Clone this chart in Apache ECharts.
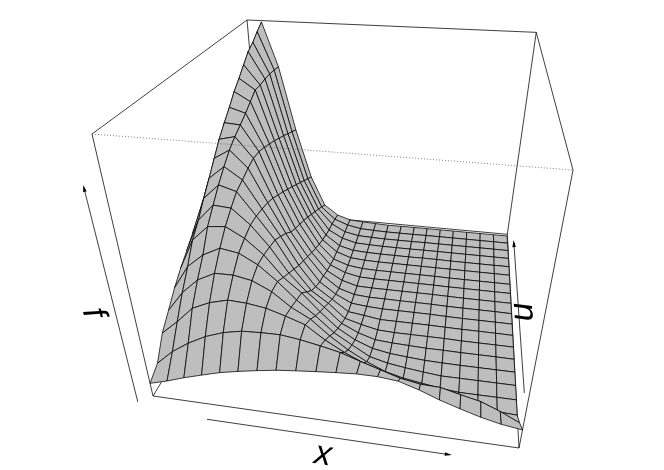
<!DOCTYPE html>
<html>
<head>
<meta charset="utf-8">
<script src="https://cdn.jsdelivr.net/npm/echarts@6/dist/echarts.min.js"></script>
<style>
  html, body { margin: 0; padding: 0; background: #fff; }
  #chart { width: 664px; height: 470px; }
</style>
</head>
<body>
<div id="chart"></div>
<script>
// grid of the surface
const xValues = [0, 0.053, 0.105, 0.158, 0.211, 0.263, 0.316, 0.368, 0.421, 0.474, 0.526, 0.579, 0.632, 0.684, 0.737, 0.789, 0.842, 0.895, 0.947, 1];
const uValues = [0, 0.053, 0.105, 0.158, 0.211, 0.263, 0.316, 0.368, 0.421, 0.474, 0.526, 0.579, 0.632, 0.684, 0.737, 0.789, 0.842, 0.895, 0.947, 1];
// one row per x value, one column per u value
const fValues = [
  [0.062, 0.091, 0.172, 0.22, 0.27, 0.31, 0.345, 0.38, 0.41, 0.43, 0.45, 0.46, 0.47, 0.48, 0.49, 0.49, 0.5, 0.5, 0.5, 0.5],
  [0.085, 0.157, 0.235, 0.31, 0.375, 0.445, 0.488, 0.542, 0.591, 0.642, 0.692, 0.733, 0.771, 0.813, 0.846, 0.882, 0.918, 0.94, 0.968, 0.994],
  [0.112, 0.206, 0.304, 0.374, 0.433, 0.509, 0.558, 0.605, 0.646, 0.682, 0.708, 0.728, 0.75, 0.774, 0.8, 0.798, 0.802, 0.802, 0.799, 0.792],
  [0.136, 0.246, 0.338, 0.411, 0.469, 0.516, 0.552, 0.583, 0.596, 0.611, 0.621, 0.618, 0.606, 0.591, 0.576, 0.558, 0.541, 0.521, 0.503, 0.483],
  [0.159, 0.274, 0.358, 0.412, 0.456, 0.474, 0.488, 0.486, 0.477, 0.466, 0.449, 0.426, 0.405, 0.38, 0.357, 0.332, 0.308, 0.282, 0.258, 0.232],
  [0.176, 0.29, 0.354, 0.397, 0.415, 0.411, 0.4, 0.387, 0.36, 0.33, 0.295, 0.27, 0.25, 0.228, 0.205, 0.18, 0.155, 0.13, 0.103, 0.076],
  [0.191, 0.294, 0.342, 0.359, 0.351, 0.32, 0.29, 0.26, 0.23, 0.205, 0.18, 0.154, 0.131, 0.109, 0.088, 0.073, 0.058, 0.051, 0.038, 0.023],
  [0.204, 0.295, 0.318, 0.3, 0.278, 0.258, 0.21, 0.165, 0.132, 0.106, 0.088, 0.066, 0.049, 0.035, 0.029, 0.019, 0.018, 0.012, 0.011, 0],
  [0.213, 0.284, 0.29, 0.257, 0.215, 0.179, 0.145, 0.111, 0.077, 0.051, 0.03, 0.022, 0.015, 0.008, 0.003, 0, -0.002, -0.003, -0.004, -0.005],
  [0.221, 0.268, 0.233, 0.191, 0.146, 0.109, 0.075, 0.044, 0.022, 0.012, 0.006, 0, -0.001, -0.002, -0.003, -0.004, -0.005, -0.006, -0.007, -0.008],
  [0.228, 0.25, 0.188, 0.136, 0.098, 0.062, 0.037, 0.022, 0.012, 0.004, 0, -0.002, -0.003, -0.004, -0.005, -0.006, -0.007, -0.008, -0.009, -0.011],
  [0.234, 0.222, 0.15, 0.091, 0.051, 0.03, 0.012, 0.004, 0, 0, 0, -0.002, -0.003, -0.004, -0.005, -0.006, -0.007, -0.008, -0.009, -0.01],
  [0.234, 0.196, 0.12, 0.055, 0.03, 0.015, 0.006, 0, 0, 0, -0.001, -0.002, -0.003, -0.004, -0.005, -0.006, -0.007, -0.008, -0.009, -0.01],
  [0.226, 0.17, 0.09, 0.034, 0.018, 0.008, 0.003, 0, 0, 0, -0.001, -0.002, -0.003, -0.004, -0.005, -0.005, -0.006, -0.007, -0.008, -0.01],
  [0.2, 0.155, 0.06, 0.021, 0.008, 0.002, 0, 0, 0, 0, -0.001, -0.002, -0.003, -0.004, -0.005, -0.005, -0.006, -0.007, -0.008, -0.01],
  [0.168, 0.152, 0.035, 0.008, 0, 0, 0, 0, -0.001, -0.002, -0.003, -0.003, -0.004, -0.005, -0.005, -0.006, -0.006, -0.007, -0.008, -0.01],
  [0.141, 0.131, 0.02, 0, 0, -0.001, -0.001, -0.002, -0.002, -0.003, -0.003, -0.004, -0.004, -0.005, -0.005, -0.006, -0.006, -0.007, -0.008, -0.01],
  [0.116, 0.112, 0.01, 0, 0, -0.001, -0.001, -0.002, -0.002, -0.003, -0.003, -0.004, -0.004, -0.005, -0.005, -0.006, -0.006, -0.007, -0.008, -0.01],
  [0.097, 0.079, 0.004, 0, 0, -0.001, -0.001, -0.002, -0.002, -0.003, -0.003, -0.004, -0.004, -0.005, -0.005, -0.006, -0.006, -0.007, -0.008, -0.01],
  [0.085, 0.039, 0, 0, 0, -0.001, -0.002, -0.002, -0.003, -0.003, -0.004, -0.004, -0.004, -0.005, -0.005, -0.005, -0.006, -0.007, -0.008, -0.01]
];

// perspective of the box, fitted to its corners: unit cube -> page pixels
function project(x, u, f) {
  const d = 1 - 0.0873 * x + 0.5 * u - 0.2293 * f;
  return [
    (153 + 320.7 * x + 243 * u - 82.1 * f) / d,
    (396 + 12.9 * x - 77.9 * u - 292.7 * f) / d
  ];
}

const boxEdges = [
  [[0, 0, 0], [1, 0, 0]],
  [[0, 0, 0], [0, 1, 0]],
  [[1, 0, 0], [1, 1, 0]],
  [[0, 1, 0], [1, 1, 0]],
  [[0, 0, 0], [0, 0, 1]],
  [[1, 0, 0], [1, 0, 1]],
  [[0, 1, 0], [0, 1, 1]],
  [[1, 1, 0], [1, 1, 1]],
  [[0, 0, 1], [0, 1, 1]],
  [[1, 0, 1], [1, 1, 1]],
  [[0, 1, 1], [1, 1, 1]]
];
const frontEdges = [[[0, 0, 1], [1, 0, 1]]];
const axisArrows = [
  [[0.18, -0.05, 0], [0.832, -0.05, 0]],
  [[-0.052, 0, -0.042], [-0.052, 0, 0.837]],
  [[1.023, 0.187, 0], [1.023, 0.963, 0]]
];
const axisLabels = [
  { name: "x", pos: [323, 455], angle: -8.4 },
  { name: "f", pos: [93, 313], angle: -75 },
  { name: "u", pos: [523, 312], angle: 94 }
];

// back to front, the way persp paints its facets
const cells = [];
for (let j = uValues.length - 2; j >= 0; j--) {
  for (let i = 0; i < xValues.length - 1; i++) {
    cells.push([i, j]);
  }
}

function renderCell(params, api) {
  const i = api.value(0);
  const j = api.value(1);
  const corners = [[i, j], [i + 1, j], [i + 1, j + 1], [i, j + 1]];
  const points = corners.map((c) => api.coord(project(xValues[c[0]], uValues[c[1]], fValues[c[0]][c[1]])));
  return {
    type: "polygon",
    shape: { points: points },
    style: { fill: "#bebebe", stroke: "#000", lineWidth: 0.75, lineJoin: "round" }
  };
}

function edgeRenderer(edges, lineDash, color) {
  return function (params, api) {
    const edge = edges[params.dataIndex];
    const a = api.coord(project(edge[0][0], edge[0][1], edge[0][2]));
    const b = api.coord(project(edge[1][0], edge[1][1], edge[1][2]));
    return {
      type: "line",
      shape: { x1: a[0], y1: a[1], x2: b[0], y2: b[1] },
      style: { stroke: color, lineWidth: 0.75, lineDash: lineDash }
    };
  };
}

function renderArrow(params, api) {
  const edge = axisArrows[params.dataIndex];
  const a = api.coord(project(edge[0][0], edge[0][1], edge[0][2]));
  const b = api.coord(project(edge[1][0], edge[1][1], edge[1][2]));
  const len = Math.hypot(b[0] - a[0], b[1] - a[1]);
  const ux = (b[0] - a[0]) / len;
  const uy = (b[1] - a[1]) / len;
  const hl = 7;
  const hw = 1.8;
  return {
    type: "group",
    children: [
      {
        type: "line",
        shape: { x1: a[0], y1: a[1], x2: b[0] - ux * 3, y2: b[1] - uy * 3 },
        style: { stroke: "#000", lineWidth: 0.75 }
      },
      {
        type: "polygon",
        shape: {
          points: [
            [b[0], b[1]],
            [b[0] - ux * hl - uy * hw, b[1] - uy * hl + ux * hw],
            [b[0] - ux * hl + uy * hw, b[1] - uy * hl - ux * hw]
          ]
        },
        style: { fill: "#000" }
      }
    ]
  };
}

function renderLabel(params, api) {
  const item = axisLabels[params.dataIndex];
  const p = api.coord(item.pos);
  return {
    type: "text",
    x: p[0],
    y: p[1],
    rotation: (item.angle * Math.PI) / 180,
    style: {
      text: item.name,
      font: 'italic 34px "Liberation Sans", Arial, sans-serif',
      fill: "#000",
      textAlign: "center",
      textVerticalAlign: "middle"
    }
  };
}

const chart = echarts.init(document.getElementById("chart"), null, { renderer: "canvas" });
chart.setOption({
  animation: false,
  backgroundColor: "#fff",
  grid: { left: 0, right: 0, top: 0, bottom: 0 },
  xAxis: { type: "value", min: 0, max: 664, show: false },
  yAxis: { type: "value", min: 0, max: 470, inverse: true, show: false },
  series: [
    { name: "box", type: "custom", coordinateSystem: "cartesian2d", silent: true, clip: false, z: 1, data: boxEdges.map((e, k) => [k]), renderItem: edgeRenderer(boxEdges, null, "#000") },
    { name: "surface", type: "custom", coordinateSystem: "cartesian2d", silent: true, clip: false, z: 2, data: cells, renderItem: renderCell },
    { name: "front", type: "custom", coordinateSystem: "cartesian2d", silent: true, clip: false, z: 3, data: frontEdges.map((e, k) => [k]), renderItem: edgeRenderer(frontEdges, [1, 2], "#555") },
    { name: "arrows", type: "custom", coordinateSystem: "cartesian2d", silent: true, clip: false, z: 3, data: axisArrows.map((e, k) => [k]), renderItem: renderArrow },
    { name: "labels", type: "custom", coordinateSystem: "cartesian2d", silent: true, clip: false, z: 3, data: axisLabels.map((e, k) => [k]), renderItem: renderLabel }
  ]
});
</script>
</body>
</html>
